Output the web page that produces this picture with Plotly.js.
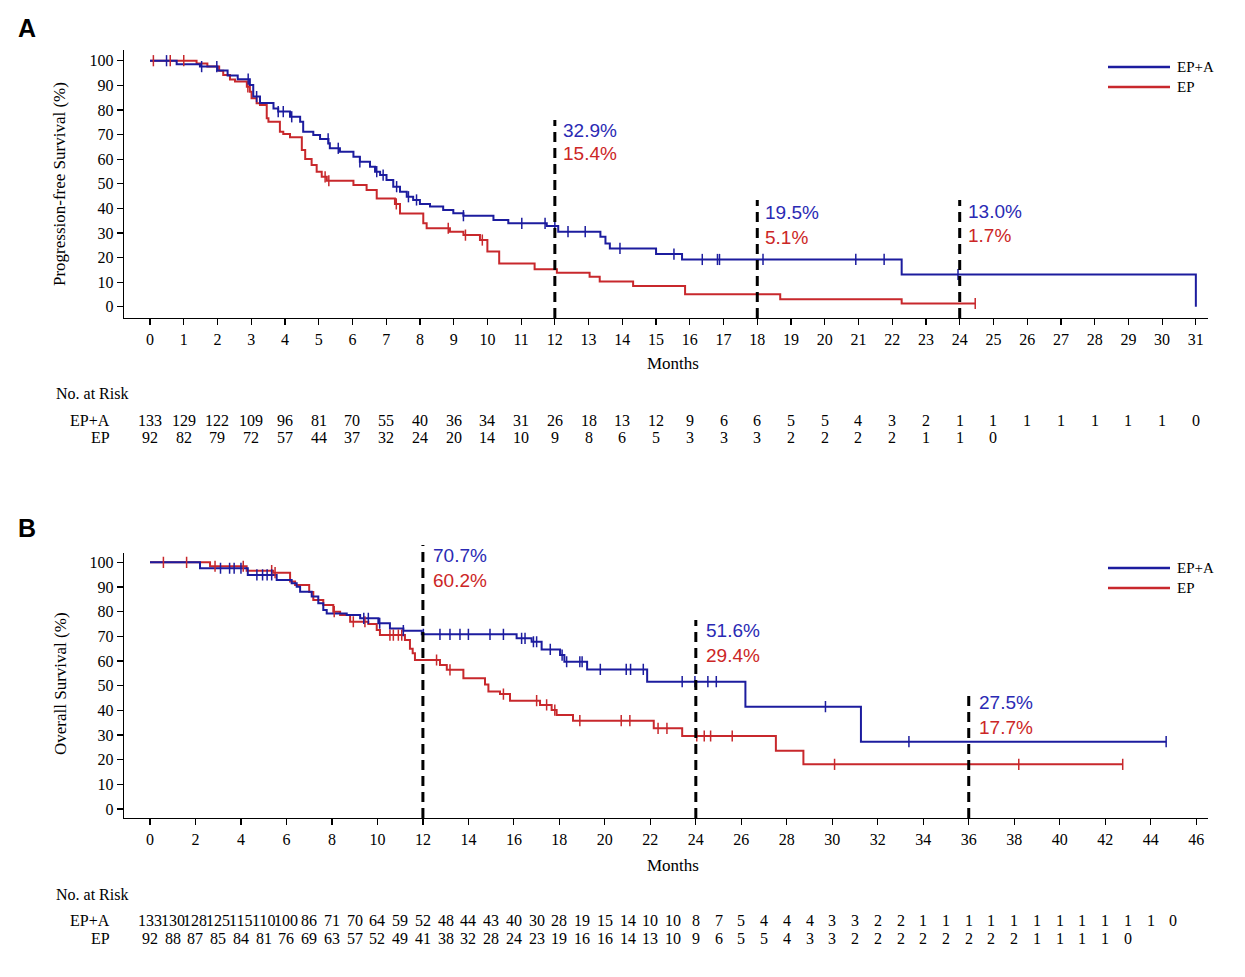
<!DOCTYPE html>
<html><head><meta charset="utf-8">
<script src="https://cdn.plot.ly/plotly-3.0.1.min.js"></script>
<style>html,body{margin:0;padding:0;background:#fff}#chart{width:1245px;height:977px}</style>
</head><body><div id="chart"></div>
<script>
// ---------- Panel A: Progression-free survival (step times in months, survival %) ----------
const pfsTimesEPA = [0, 0.79, 1.48, 2.0, 2.3, 2.6, 2.96, 3.06, 3.26, 3.66, 3.8, 4.15, 4.45, 4.54, 4.84, 5.04, 5.29, 5.33, 5.63, 6.03, 6.22, 6.52, 6.67, 6.82, 7.01, 7.21, 7.41, 7.61, 7.80, 8.0, 8.3, 8.69, 8.99, 9.29, 10.18, 10.62, 11.76, 12.1, 13.35, 13.5, 13.63, 15.0, 15.77, 22.28, 31.0];
const pfsSurvEPA  = [100, 98.6, 97.6, 96.0, 94.0, 92.5, 90.1, 85.4, 82.8, 80.6, 79.3, 77.2, 75.2, 71.1, 69.8, 68.2, 66.4, 64.4, 63.0, 61.0, 58.9, 56.9, 54.9, 53.5, 51.5, 48.8, 46.7, 44.7, 43.4, 41.7, 40.7, 39.3, 38.0, 37.0, 35.2, 33.9, 32.8, 30.5, 28.4, 25.7, 23.7, 21.4, 19.2, 13.1, 0];
const pfsTimesEP  = [0, 1.38, 1.70, 2.05, 2.17, 2.37, 2.52, 2.87, 2.96, 3.01, 3.16, 3.26, 3.46, 3.51, 3.85, 3.95, 4.15, 4.5, 4.6, 4.79, 4.94, 5.09, 5.24, 6.03, 6.42, 6.72, 7.26, 7.41, 8.10, 8.20, 8.89, 9.29, 9.78, 10.0, 10.35, 11.4, 12.06, 13.03, 13.33, 14.32, 15.86, 18.68, 22.28, 24.46];
const pfsSurvEP   = [100, 98.9, 97.6, 95.9, 94.2, 92.4, 91.5, 89.4, 87.4, 84.7, 82.7, 82.0, 76.6, 75.2, 71.1, 70.2, 68.9, 63.7, 60.0, 57.6, 54.9, 52.8, 51.2, 49.5, 47.4, 44.0, 41.8, 37.9, 33.9, 31.9, 30.5, 29.1, 27.1, 22.4, 17.6, 15.2, 13.8, 12.2, 10.2, 8.4, 5.1, 3.0, 1.3, 1.3];
const pfsCensorEPA = [0.49, 1.53, 1.98, 2.91, 3.16, 3.8, 3.95, 4.2, 5.28, 5.58, 6.22, 6.72, 6.91, 7.31, 7.66, 7.9, 9.29, 11.02, 11.71, 12.0, 12.39, 12.9, 13.93, 15.53, 16.37, 16.82, 16.88, 18.17, 20.92, 21.76, 23.95];
const pfsCensorEP  = [0.1, 0.6, 1.0, 2.9, 5.19, 5.3, 7.3, 8.84, 9.35, 9.85, 24.46];
const pfsRiskEPA = [133, 129, 122, 109, 96, 81, 70, 55, 40, 36, 34, 31, 26, 18, 13, 12, 9, 6, 6, 5, 5, 4, 3, 2, 1, 1, 1, 1, 1, 1, 1, 0];
const pfsRiskEP  = [92, 82, 79, 72, 57, 44, 37, 32, 24, 20, 14, 10, 9, 8, 6, 5, 3, 3, 3, 2, 2, 2, 2, 1, 1, 0];
const pfsTicks = Array.from({length: 32}, (_, i) => i);
const pfsMarks = [12, 18, 24];
const pfsLabelEPA = ['32.9%', '19.5%', '13.0%'];
const pfsLabelEP  = ['15.4%', '5.1%', '1.7%'];

// ---------- Panel B: Overall survival ----------
const osTimesEPA = [0, 2.2, 4.3, 5.57, 6.23, 6.45, 6.6, 7.11, 7.4, 7.62, 7.77, 8.65, 9.24, 10.04, 10.55, 11.14, 11.95, 16.12, 16.78, 17.22, 18.03, 18.22, 19.22, 21.86, 26.18, 31.26, 44.68];
const osSurvEPA  = [100, 97.6, 94.9, 92.8, 91.5, 90.1, 88.1, 86.1, 83.4, 80.7, 79.3, 78.6, 77.3, 75.3, 73.2, 72.3, 70.8, 69.2, 67.8, 64.7, 62.4, 59.7, 56.6, 51.6, 41.5, 27.3, 27.3];
const osTimesEP  = [0, 2.64, 4.25, 5.42, 6.16, 6.38, 7.0, 7.18, 7.62, 8.06, 8.36, 8.8, 9.6, 9.97, 10.11, 11.21, 11.43, 11.55, 11.65, 12.75, 13.05, 13.78, 14.73, 14.88, 15.39, 15.83, 17.15, 17.66, 17.88, 18.6, 22.15, 23.4, 27.52, 28.73, 42.77];
const osSurvEP   = [100, 98.4, 96.6, 95.8, 92.2, 90.8, 88.0, 84.7, 82.7, 80.0, 78.6, 75.9, 75.0, 72.6, 70.5, 68.5, 65.0, 63.1, 60.4, 58.4, 56.4, 53.0, 50.5, 47.6, 46.6, 43.9, 42.2, 40.1, 38.1, 35.8, 32.7, 29.6, 23.6, 18.1, 18.1];
const osCensorEPA = [3.1, 3.5, 3.7, 4.0, 4.7, 4.95, 5.15, 5.35, 9.4, 9.6, 10.1, 11.14, 12.02, 12.75, 13.19, 13.63, 14.0, 14.95, 15.54, 16.34, 16.49, 16.86, 17.0, 17.6, 18.12, 18.32, 18.9, 19.0, 19.8, 20.94, 21.13, 21.69, 23.4, 23.96, 24.53, 24.9, 29.7, 33.37, 44.68];
const osCensorEP  = [0.59, 1.61, 2.86, 4.1, 5.35, 5.5, 8.1, 8.94, 9.45, 10.55, 10.7, 10.92, 11.07, 12.6, 13.19, 15.54, 17.0, 17.44, 17.8, 18.9, 20.72, 21.1, 22.34, 22.73, 24.04, 24.37, 24.65, 25.6, 30.1, 38.2, 42.77];
const osRiskEPA = [133, 130, 128, 125, 115, 110, 100, 86, 71, 70, 64, 59, 52, 48, 44, 43, 40, 30, 28, 19, 15, 14, 10, 10, 8, 7, 5, 4, 4, 4, 3, 3, 2, 2, 1, 1, 1, 1, 1, 1, 1, 1, 1, 1, 1, 0];
const osRiskEP  = [92, 88, 87, 85, 84, 81, 76, 69, 63, 57, 52, 49, 41, 38, 32, 28, 24, 23, 19, 16, 16, 14, 13, 10, 9, 6, 5, 5, 4, 3, 3, 2, 2, 2, 2, 2, 2, 2, 2, 1, 1, 1, 1, 0];
const osTicks = Array.from({length: 24}, (_, i) => i * 2);
const osMarks = [12, 24, 36];
const osLabelEPA = ['70.7%', '51.6%', '27.5%'];
const osLabelEP  = ['60.2%', '29.4%', '17.7%'];

const groups = ['EP+A', 'EP'];

// ---------- styling ----------
const W = 1245, H = 977;
const BLUE = '#1c1c9e', RED = '#c8282c';
const BLUE_T = '#2a2ab4', RED_T = '#cc2626';
const SERIF = 'Liberation Serif, Times New Roman, serif';
const SANS = 'Liberation Sans, Arial, sans-serif';
const px = v => v / W, py = v => 1 - v / H;

const xDom = [px(124), px(1208)];
const domA = [py(318), py(50)];
const domB = [py(818), py(552.7)];
const xRangeA = [-0.771, 31.36], yRangeA = [-4.59, 104.35];
const xRangeB = [-1.143, 46.52], yRangeB = [-3.65, 103.9];
const paperY = (v, dom, rng) => dom[0] + (v - rng[0]) / (rng[1] - rng[0]) * (dom[1] - dom[0]);

function stepAt(times, vals, t) {
  let v = vals[0];
  for (let i = 0; i < times.length; i++) if (times[i] <= t + 1e-9) v = vals[i];
  return v;
}

function curve(times, vals, color, xa, ya, name) {
  return {type: 'scatter', mode: 'lines', x: times, y: vals, xaxis: xa, yaxis: ya, name: name,
    line: {shape: 'hv', color: color, width: 2}, showlegend: false, hoverinfo: 'skip'};
}
function censor(cens, times, vals, color, xa, ya) {
  return {type: 'scatter', mode: 'markers', x: cens, y: cens.map(t => stepAt(times, vals, t)),
    xaxis: xa, yaxis: ya, showlegend: false, hoverinfo: 'skip',
    marker: {symbol: 'line-ns-open', size: 8, color: color, line: {color: color, width: 1.5}}};
}

const data = [
  curve(pfsTimesEP, pfsSurvEP, RED, 'x', 'y', groups[1]),
  curve(pfsTimesEPA, pfsSurvEPA, BLUE, 'x', 'y', groups[0]),
  censor(pfsCensorEP, pfsTimesEP, pfsSurvEP, RED, 'x', 'y'),
  censor(pfsCensorEPA, pfsTimesEPA, pfsSurvEPA, BLUE, 'x', 'y'),
  curve(osTimesEP, osSurvEP, RED, 'x2', 'y2', groups[1]),
  curve(osTimesEPA, osSurvEPA, BLUE, 'x2', 'y2', groups[0]),
  censor(osCensorEP, osTimesEP, osSurvEP, RED, 'x2', 'y2'),
  censor(osCensorEPA, osTimesEPA, osSurvEPA, BLUE, 'x2', 'y2')
];

const axisBase = {showline: true, linecolor: '#000', linewidth: 1.3, ticks: 'outside', ticklen: 6,
  tickwidth: 1.2, tickcolor: '#000', showgrid: false, zeroline: false,
  tickfont: {family: SERIF, size: 16, color: '#000'}, fixedrange: true};
const yTicks = [0, 10, 20, 30, 40, 50, 60, 70, 80, 90, 100];

const shapes = [];
const annotations = [];
function ann(o) {
  annotations.push(Object.assign({showarrow: false, xanchor: 'center', yanchor: 'middle'}, o));
}

function dashed(xref, x, dom, rng, topVal) {
  shapes.push({type: 'line', xref: xref, yref: 'paper', x0: x, x1: x, y0: dom[0], y1: paperY(topVal, dom, rng),
    line: {color: '#000', width: 3, dash: '10px,6px'}});
}
// dashed landmark lines: top values (percent units)
const pfsDashTop = [75.9, 43.4, 43.4];
const osDashTop = [107, 76.6, 47.4];
pfsMarks.forEach((m, i) => dashed('x', m, domA, yRangeA, pfsDashTop[i]));
osMarks.forEach((m, i) => dashed('x2', m, domB, yRangeB, osDashTop[i]));

// percentage labels
const pfsLabY = [[71.8, 62.1], [38.5, 28.3], [38.9, 29.1]];
const osLabY = [[102.6, 92.8], [72.2, 62.4], [43.0, 33.2]];
function pctLabel(xref, yref, x, y, text, color, shift) {
  ann({xref: xref, yref: yref, x: x, y: y, text: text, xanchor: 'left', xshift: shift,
    font: {family: SANS, size: 19, color: color}});
}
pfsMarks.forEach((m, i) => {
  pctLabel('x', 'y', m, pfsLabY[i][0], pfsLabelEPA[i], BLUE_T, 6);
  pctLabel('x', 'y', m, pfsLabY[i][1], pfsLabelEP[i], RED_T, 6);
});
osMarks.forEach((m, i) => {
  pctLabel('x2', 'y2', m, osLabY[i][0], osLabelEPA[i], BLUE_T, 8);
  pctLabel('x2', 'y2', m, osLabY[i][1], osLabelEP[i], RED_T, 8);
});

// legends
function legend(yTop, yBot) {
  [[yTop, BLUE, groups[0]], [yBot, RED, groups[1]]].forEach(([y, c, t]) => {
    shapes.push({type: 'line', xref: 'paper', yref: 'paper', x0: px(1108), x1: px(1170), y0: py(y), y1: py(y),
      line: {color: c, width: 2.5}});
    ann({xref: 'paper', yref: 'paper', x: px(1175), y: py(y), text: t, xanchor: 'left',
      font: {family: SERIF, size: 15, color: '#000'}});
  });
}
legend(67, 87);
legend(568, 588);

// panel letters
ann({xref: 'paper', yref: 'paper', x: px(27), y: py(28), text: '<b>A</b>', font: {family: SANS, size: 25, color: '#000'}});
ann({xref: 'paper', yref: 'paper', x: px(27), y: py(528), text: '<b>B</b>', font: {family: SANS, size: 25, color: '#000'}});

// axis titles
ann({xref: 'paper', yref: 'paper', x: px(60), y: py(184), text: 'Progression-free Survival (%)', textangle: -90,
  font: {family: SERIF, size: 17, color: '#000'}});
ann({xref: 'paper', yref: 'paper', x: px(60), y: py(684), text: 'Overall Survival (%)', textangle: -90,
  font: {family: SERIF, size: 17, color: '#000'}});
ann({xref: 'x', yref: 'paper', x: 15.5, y: py(364), text: 'Months', font: {family: SERIF, size: 17, color: '#000'}});
ann({xref: 'x2', yref: 'paper', x: 23, y: py(865), text: 'Months', font: {family: SERIF, size: 17, color: '#000'}});

// risk tables
function riskTable(xref, headY, rowY1, rowY2, riskA, riskB, step) {
  const f = {family: SERIF, size: 16, color: '#000'};
  ann({xref: 'paper', yref: 'paper', x: px(54), y: py(headY), text: 'No. at Risk', xanchor: 'left', font: f});
  ann({xref: 'paper', yref: 'paper', x: px(112), y: py(rowY1), text: groups[0], xanchor: 'right', font: f});
  ann({xref: 'paper', yref: 'paper', x: px(112), y: py(rowY2), text: groups[1], xanchor: 'right', font: f});
  riskA.forEach((v, i) => ann({xref: xref, yref: 'paper', x: i * step, y: py(rowY1), text: String(v), font: f}));
  riskB.forEach((v, i) => ann({xref: xref, yref: 'paper', x: i * step, y: py(rowY2), text: String(v), font: f}));
}
riskTable('x', 393, 420, 437, pfsRiskEPA, pfsRiskEP, 1);
riskTable('x2', 894, 920, 938, osRiskEPA, osRiskEP, 1);

const layout = {
  width: W, height: H, margin: {l: 0, r: 0, t: 0, b: 0}, paper_bgcolor: '#fff', plot_bgcolor: '#fff',
  showlegend: false,
  xaxis: Object.assign({}, axisBase, {domain: xDom, range: xRangeA, tickvals: pfsTicks, anchor: 'y'}),
  yaxis: Object.assign({}, axisBase, {domain: domA, range: yRangeA, tickvals: yTicks, anchor: 'x'}),
  xaxis2: Object.assign({}, axisBase, {domain: xDom, range: xRangeB, tickvals: osTicks, anchor: 'y2'}),
  yaxis2: Object.assign({}, axisBase, {domain: domB, range: yRangeB, tickvals: yTicks, anchor: 'x2'}),
  shapes: shapes, annotations: annotations
};
Plotly.newPlot('chart', data, layout, {displayModeBar: false, staticPlot: true});
</script></body></html>
